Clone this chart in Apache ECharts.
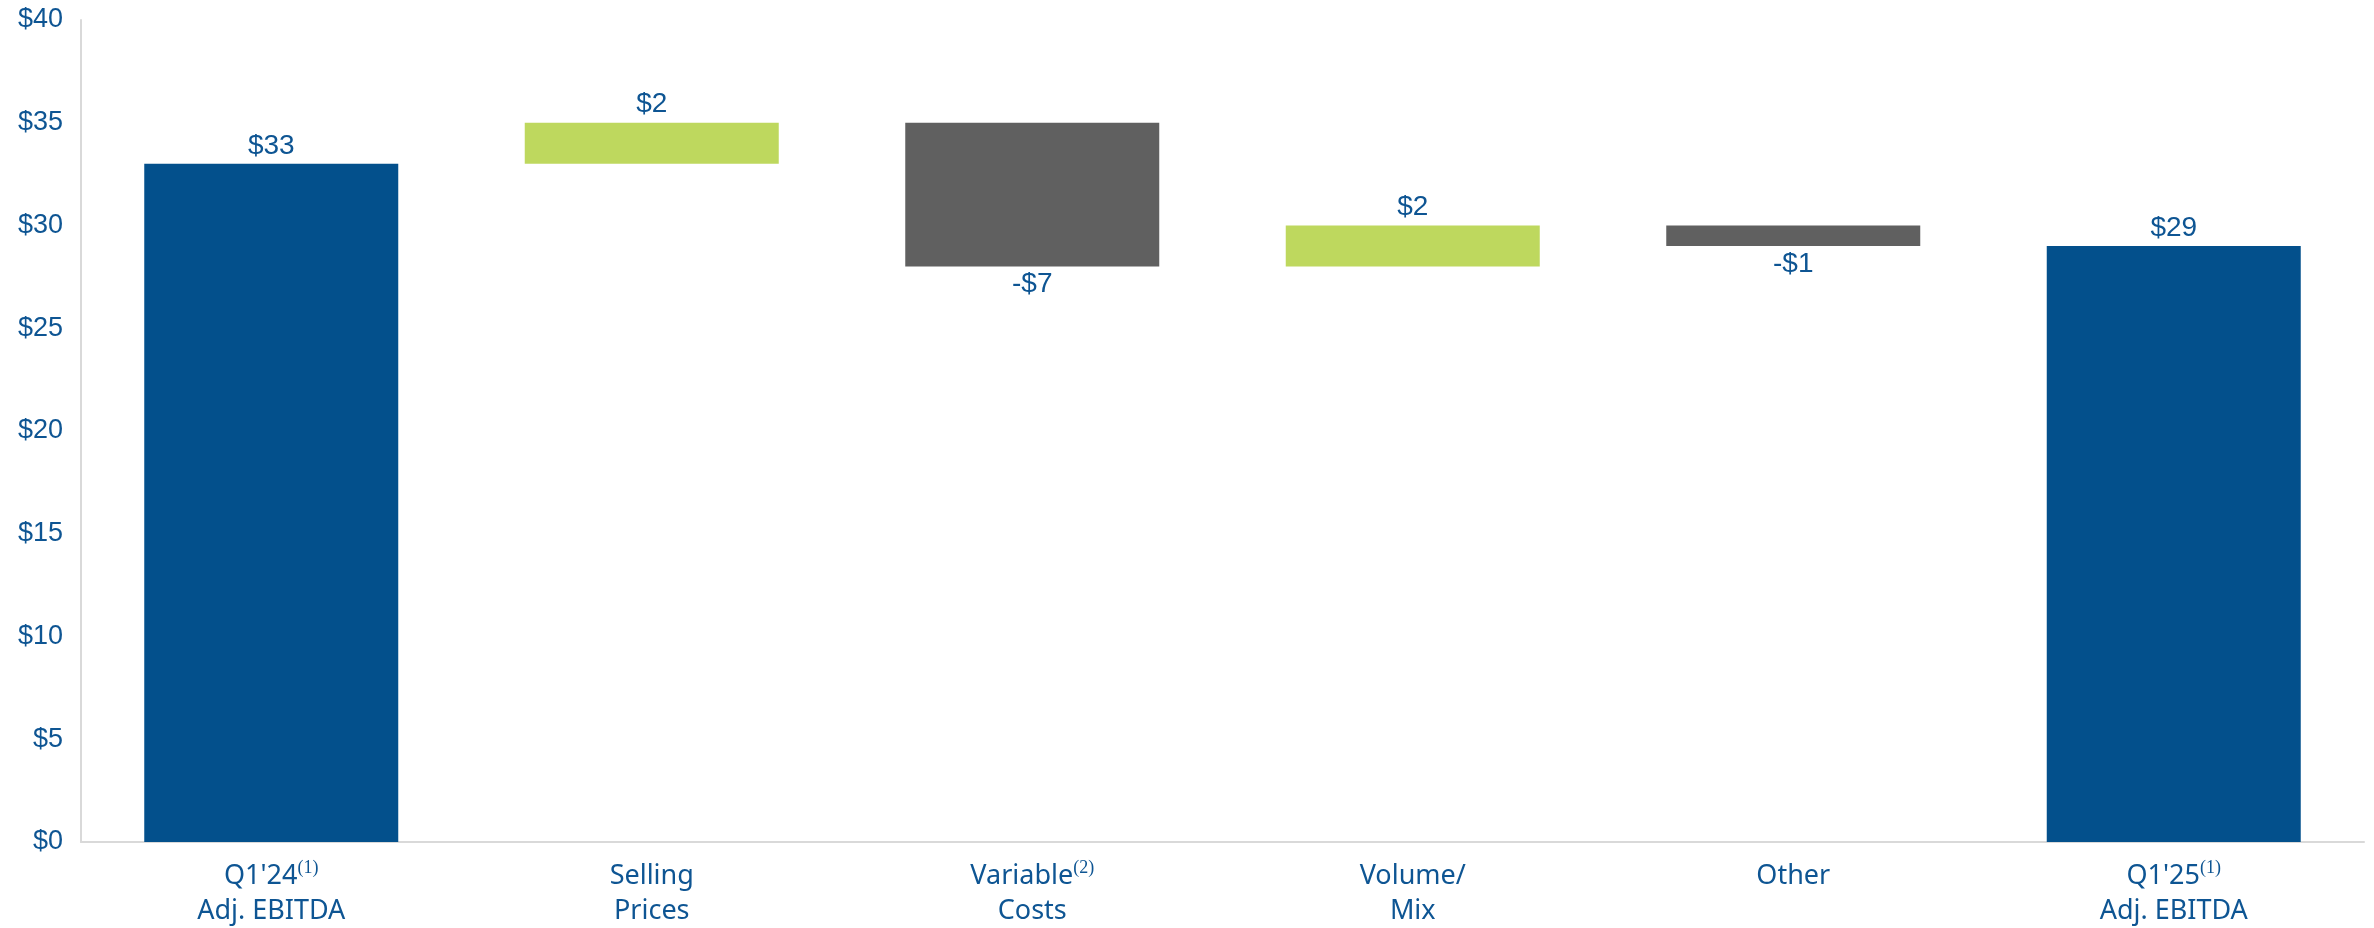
<!DOCTYPE html>
<html>
<head>
<meta charset="utf-8">
<title>Adj. EBITDA Bridge</title>
<script src="https://cdn.jsdelivr.net/npm/echarts@6/dist/echarts.min.js"></script>
<style>
  html, body { margin: 0; padding: 0; background: #ffffff; }
  #chart { width: 2374px; height: 928px; }
</style>
</head>
<body>
<div id="chart"></div>
<script>
// Bridge steps: first line of each category label, second line, footnote marker
const labelLine1 = ["Q1'24", 'Selling', 'Variable', 'Volume/', 'Other', "Q1'25"];
const labelLine2 = ['Adj. EBITDA', 'Prices', 'Costs', 'Mix', '', 'Adj. EBITDA'];
const footnotes = ['(1)', '', '(2)', '', '', '(1)'];
// footnote style: 'sup' sits just above the cap line, 'supHigh' clears it entirely
const footnoteStyles = ['sup', '', 'supHigh', '', '', 'sup'];

// Step values ($M): totals at both ends, signed changes in between
const stepValues = [33, 2, -7, 2, -1, 29];
const stepKinds = ['total', 'delta', 'delta', 'delta', 'delta', 'total'];

// Y axis
const yMin = 0;
const yMax = 40;
const yInterval = 5;

const COLORS = { total: '#03508C', up: '#BED85E', down: '#606060' };
const TEXT = '#0E5593';

// Invisible base under each floating bar, derived from the running total
const baseData = [];
const barData = [];
let running = 0;
stepValues.forEach((v, i) => {
  if (stepKinds[i] === 'total') {
    baseData.push(0);
    barData.push({ value: v, itemStyle: { color: COLORS.total }, label: { position: 'top' } });
    running = v;
  } else if (v >= 0) {
    baseData.push(running);
    barData.push({ value: v, itemStyle: { color: COLORS.up }, label: { position: 'top' } });
    running += v;
  } else {
    running += v;
    baseData.push(running);
    barData.push({ value: -v, itemStyle: { color: COLORS.down }, label: { position: 'bottom' } });
  }
});

const categories = labelLine1.map((_, i) => String(i));

function money(v) {
  return (v < 0 ? '-$' : '$') + Math.abs(v);
}

const chart = echarts.init(document.getElementById('chart'), null, { renderer: 'canvas' });

chart.setOption({
  animation: false,
  backgroundColor: '#ffffff',
  grid: { left: 81, right: 10, top: 20, bottom: 86, containLabel: false },
  xAxis: {
    type: 'category',
    data: categories,
    axisTick: { show: false },
    axisLine: { show: true, lineStyle: { color: '#D9D9D9', width: 2 } },
    axisLabel: {
      interval: 0,
      margin: 17,
      formatter: (val) => {
        const i = Number(val);
        let s = '{m|' + labelLine1[i] + '}';
        if (footnotes[i]) s += '{' + footnoteStyles[i] + '|' + footnotes[i] + '}';
        if (labelLine2[i]) s += '\n{m|' + labelLine2[i] + '}';
        return s;
      },
      rich: {
        m: { fontFamily: 'Noto Sans', fontSize: 27, color: TEXT, lineHeight: 35 },
        sup: { fontFamily: 'Liberation Serif', fontSize: 18, color: TEXT, lineHeight: 14, verticalAlign: 'top' },
        supHigh: { fontFamily: 'Liberation Serif', fontSize: 18, color: TEXT, lineHeight: 2, verticalAlign: 'top' }
      }
    }
  },
  yAxis: {
    type: 'value',
    min: yMin,
    max: yMax,
    interval: yInterval,
    axisLine: { show: true, lineStyle: { color: '#D9D9D9', width: 2 } },
    axisTick: { show: false },
    splitLine: { show: false },
    axisLabel: {
      margin: 18,
      fontFamily: 'Liberation Sans',
      fontSize: 27,
      color: TEXT,
      formatter: (v) => '$' + v
    }
  },
  series: [
    {
      name: 'base',
      type: 'bar',
      stack: 'bridge',
      barWidth: 254,
      itemStyle: { color: 'transparent' },
      emphasis: { disabled: true },
      data: baseData,
      silent: true
    },
    {
      name: 'step',
      type: 'bar',
      stack: 'bridge',
      barWidth: 254,
      data: barData,
      label: {
        show: true,
        distance: 4,
        fontFamily: 'Liberation Sans',
        fontSize: 28,
        color: TEXT,
        formatter: (p) => money(stepValues[p.dataIndex])
      }
    }
  ]
});
</script>
</body>
</html>
